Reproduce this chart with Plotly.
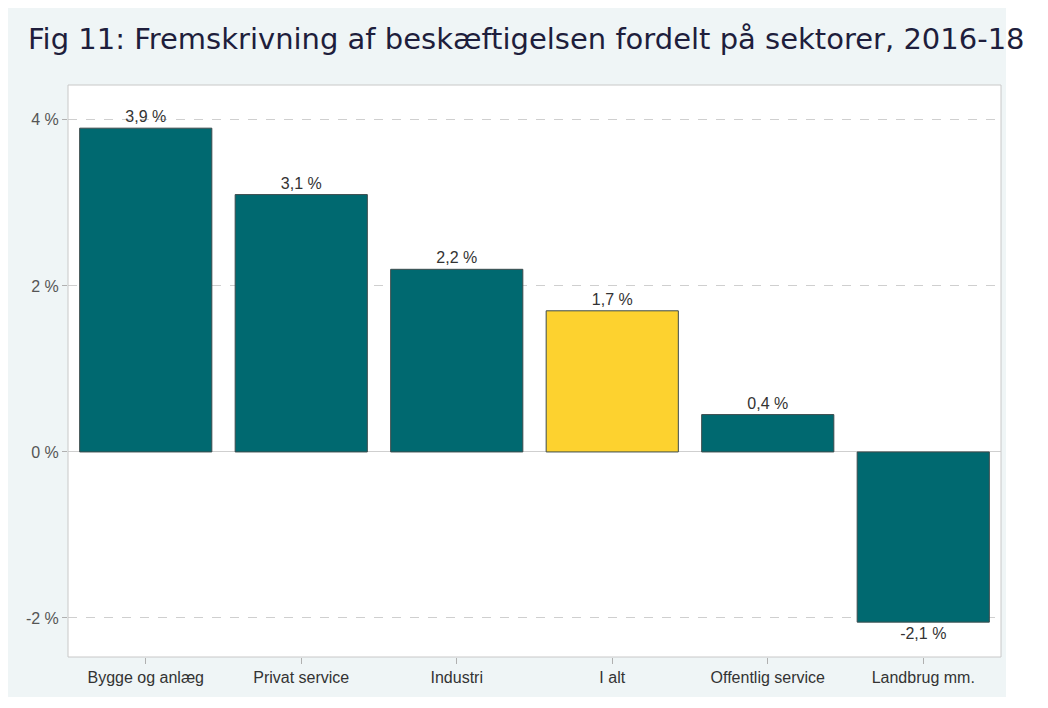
import plotly.graph_objects as go

# data
sectors = ["Bygge og anlæg", "Privat service", "Industri", "I alt", "Offentlig service", "Landbrug mm."]
growth = [3.9, 3.1, 2.2, 1.7, 0.45, -2.05]
bar_labels = ["3,9 %", "3,1 %", "2,2 %", "1,7 %", "0,4 %", "-2,1 %"]
y_ticks = [-2, 0, 2, 4]
y_tick_labels = ["-2 %", "0 %", "2 %", "4 %"]

TEAL = "#006970"
YELLOW = "#fdd22f"
PANEL = "#eff5f6"
colors = [YELLOW if s == "I alt" else TEAL for s in sectors]

# the page adds an 8px body margin, so the figure is a bit smaller than the window
W, H = 1040, 700
L, R, T, B = 60, 47, 77, 51
pw, ph = W - L - R, H - T - B


def px_x(p):
    return (p - L) / pw


def px_y(p):
    return (H - B - p) / ph


fig = go.Figure(
    go.Bar(
        x=sectors,
        y=growth,
        width=0.85,
        marker=dict(color=colors, line=dict(color="#3d4b4c", width=1)),
        text=bar_labels,
        textposition="outside",
        textfont=dict(size=16, color="#333333"),
        cliponaxis=False,
        hoverinfo="x+y",
    )
)

# white strips where the light panel stops (right and bottom edges)
fig.add_shape(
    type="rect", xref="paper", yref="paper",
    x0=px_x(998), x1=px_x(W + 5), y0=px_y(H + 5), y1=px_y(-5),
    fillcolor="white", line=dict(width=0), layer="below",
)
fig.add_shape(
    type="rect", xref="paper", yref="paper",
    x0=px_x(-5), x1=px_x(W + 5), y0=px_y(H + 5), y1=px_y(689),
    fillcolor="white", line=dict(width=0), layer="below",
)
# plot frame
fig.add_shape(
    type="rect", xref="paper", yref="paper",
    x0=0, x1=1, y0=0, y1=1,
    line=dict(color="#c8c8c8", width=1), layer="above",
)

fig.update_layout(
    width=W, height=H,
    margin=dict(l=L, r=R, t=T, b=B),
    paper_bgcolor=PANEL,
    plot_bgcolor="white",
    showlegend=False,
    title=dict(
        text="Fig 11: Fremskrivning af beskæftigelsen fordelt på sektorer, 2016-18",
        x=20 / W, xref="container", xanchor="left",
        y=1 - 31 / H, yref="container", yanchor="middle",
        font=dict(size=29, color="#1e1e3c", family="DejaVu Sans, Verdana, sans-serif"),
    ),
    font=dict(family="Liberation Sans, Arial", size=16, color="#333333"),
)

fig.update_xaxes(
    range=[-0.5, 5.5],
    ticks="outside", ticklen=6, tickcolor="#b0b0b0",
    tickfont=dict(size=16, color="#333333"),
    showgrid=False, showline=False,
)
fig.update_yaxes(
    range=[-2.47, 4.42],
    tickvals=y_ticks, ticktext=y_tick_labels,
    ticks="outside", ticklen=5, tickcolor="#b0b0b0",
    tickfont=dict(size=16, color="#555555"),
    showgrid=True, gridcolor="#cfcfcf", griddash="dash", gridwidth=1,
    zeroline=True, zerolinecolor="#cfcfcf", zerolinewidth=1,
    showline=False,
)

fig.write_html("out.html")
